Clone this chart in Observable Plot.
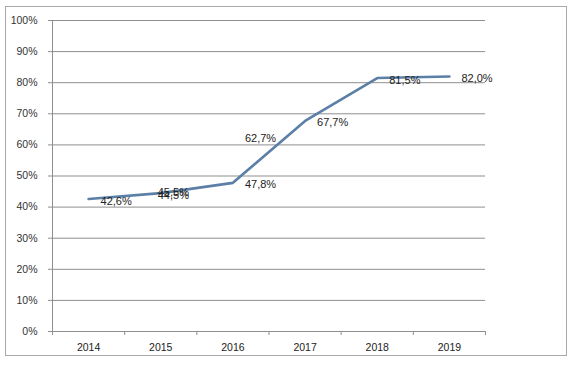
<!DOCTYPE html>
<html>
<head>
<meta charset="utf-8">
<script src="https://cdn.jsdelivr.net/npm/d3@7"></script>
<script src="https://cdn.jsdelivr.net/npm/@observablehq/plot@0.6"></script>
<style>
  html, body { margin: 0; padding: 0; background: #fff; }
  #wrap { position: relative; width: 574px; height: 367px; }
  #frame { position: absolute; left: 5px; top: 6px; width: 562px; height: 350px; border: 1px solid #a8a8a8; box-sizing: border-box; pointer-events: none; }
</style>
</head>
<body>
<div id="wrap"><div id="frame"></div></div>
<script>
const years = [2014, 2015, 2016, 2017, 2018, 2019];
const values = [42.6, 44.5, 47.8, 67.7, 81.5, 82.0];
const labelYears = [2014, 2016, 2016, 2017, 2018, 2019];
const labelValues = [42.6, 47.8, 62.7, 67.7, 81.5, 82.0];
const overlapYears = [2015, 2015];
const overlapValues = [44.5, 45.5];
const yTicks = [0, 10, 20, 30, 40, 50, 60, 70, 80, 90, 100];

const lineData = years.map((y, i) => ({year: y, value: values[i]}));
const labelData = labelYears.map((y, i) => ({year: y, value: labelValues[i]}));
const overlapData = overlapYears.map((y, i) => ({year: y, value: overlapValues[i]}));
const bounds = years.map(y => y - 0.5).concat([years[years.length - 1] + 0.5]);
const fmt = v => v.toFixed(1).replace(".", ",") + "%";

const chart = Plot.plot({
  width: 574,
  height: 367,
  marginLeft: 52,
  marginRight: 89,
  marginTop: 20,
  marginBottom: 36,
  style: {fontFamily: "'Liberation Sans', Arial, sans-serif", fontSize: "11px", color: "#333", background: "transparent"},
  x: {domain: [bounds[0], bounds[bounds.length - 1]], label: null},
  y: {domain: [0, 100], label: null},
  marks: [
    Plot.gridY(yTicks.slice(1), {stroke: "#8f8f8f", strokeOpacity: 1}),
    Plot.ruleY([0], {stroke: "#8f8f8f"}),
    Plot.ruleX([bounds[0]], {stroke: "#8f8f8f"}),
    Plot.axisY({ticks: yTicks, tickFormat: d => d + "%", tickSize: 4, tickPadding: 11, stroke: "#8f8f8f", fill: "#333", fontSize: 10.5, label: null}),
    Plot.axisX({ticks: bounds, tickFormat: () => "", tickSize: 4, stroke: "#8f8f8f", label: null}),
    Plot.axisX({ticks: years, tickFormat: d => String(d), tickSize: 0, tickPadding: 12, fill: "#222", fontSize: 10.5, label: null}),
    Plot.line(lineData, {x: "year", y: "value", stroke: "#5b7fa6", strokeWidth: 2.6}),
    Plot.text(labelData, {x: "year", y: "value", text: d => fmt(d.value), textAnchor: "start", dx: 12, dy: 2, fill: "#222", fontSize: 11}),
    Plot.text(overlapData, {x: "year", y: "value", text: d => fmt(d.value), textAnchor: "start", dx: -3, dy: 2, fill: "#222", fontSize: 11})
  ]
});
document.getElementById("wrap").prepend(chart);
</script>
</body>
</html>
